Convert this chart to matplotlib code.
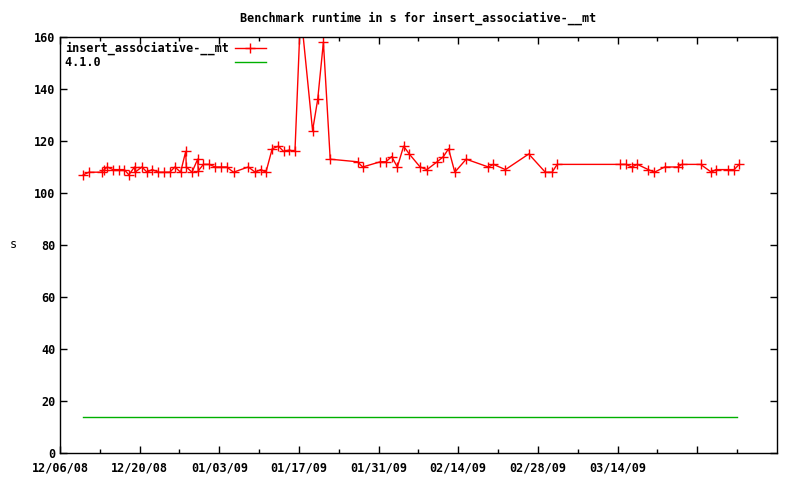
import numpy as np
import pandas as pd
import matplotlib
matplotlib.use('Agg')
import matplotlib.pyplot as plt

# days after 12/06/08 for each run
start = pd.Timestamp('2008-12-06')
days = [4.1, 5.1, 7.3, 7.8, 8.3, 9.3, 10.3, 11.3, 12.1, 13.1, 13.2, 14.4, 15.3, 16.2, 17.3,
        18.3, 19.3, 20.2, 21.2, 22.1, 22.2, 23.2, 24.2, 24.3, 25.2, 26.2, 27.3, 28.3, 29.3,
        30.5, 33.1, 34.3, 35.3, 36.2, 37.3, 38.4, 39.3, 40.3, 41.3, 42.3, 44.4, 45.3, 46.3,
        47.5, 52.3, 53.2, 56.3, 57.3, 58.3, 59.3, 60.4, 61.4, 63.3, 64.5, 66.3, 67.4, 68.3,
        69.4, 71.4, 75.3, 76.2, 78.3, 82.4, 85.3, 86.5, 87.4, 98.4, 99.5, 100.5, 101.5,
        103.4, 104.5, 106.3, 108.6, 109.3, 112.6, 114.5, 115.3, 117.5, 118.5, 119.4]
runtime = [107, 108, 108, 109, 110, 109, 109, 109, 107, 110, 108, 110, 108, 109, 108,
           108, 108, 110, 108, 116, 110, 108, 113, 108.5, 111, 111, 110, 110, 110,
           108, 110, 108, 109, 108, 117, 118, 116, 116.5, 116, 170, 124, 136, 158,
           113, 112, 110, 112, 112, 114, 110, 118, 115, 110, 109, 112, 114, 117,
           108, 113, 110, 111, 109, 115, 108, 108, 111, 111, 111, 110, 111,
           109, 108, 110, 110, 111, 111, 108, 109, 109, 109, 111]
ref_days = [4.0, 119.0]
ref_runtime = [13.7, 13.7]
series_names = ['insert_associative-__mt', '4.1.0']

x = start + pd.to_timedelta(days, unit='D')
xr = start + pd.to_timedelta(ref_days, unit='D')

plt.rcParams['font.family'] = ['DejaVu Sans Mono']
plt.rcParams['font.size'] = 8.5
plt.rcParams['font.weight'] = 'bold'

fig = plt.figure(figsize=(8, 4.8), dpi=100)
ax = fig.add_axes([0.075, 0.05625, 0.896, 0.8667])

# pad labels so they line up on the left like gnuplot's key
w = max(len(n) for n in series_names)
ax.plot(x, runtime, color='#ff0000', lw=1, marker='+', ms=7, mew=1,
        label=series_names[0].ljust(w))
ax.plot(xr, ref_runtime, color='#00b000', lw=1, label=series_names[1].ljust(w))

ax.set_xlim(start, start + pd.Timedelta(days=126))
ax.set_ylim(0, 160)
ax.set_yticks(np.arange(0, 161, 20))

majors = pd.date_range(start, periods=9, freq='14D')
minors = pd.date_range(start + pd.Timedelta(days=7), periods=9, freq='14D')
ax.set_xticks(majors)
ax.set_xticklabels([d.strftime('%m/%d/%y') for d in majors[:-1]] + [''])
ax.set_xticks(minors, minor=True)

ax.tick_params(which='both', direction='in', top=True, right=True, length=5, width=1)
ax.tick_params(which='minor', length=3)
ax.tick_params(axis='x', pad=6)
for s in ax.spines.values():
    s.set_linewidth(1)

ax.set_ylabel('s', rotation=0, va='center', ha='center')
ax.yaxis.set_label_coords(-0.065, 0.5)
ax.set_title('Benchmark runtime in s for insert_associative-__mt', pad=11, fontsize=8.5,
             fontweight='bold')

ax.legend(loc='upper left', frameon=False, markerfirst=False, handlelength=2.7,
          borderaxespad=0.2, borderpad=0.2, labelspacing=0.1, handletextpad=0.5)

fig.savefig('out.png', dpi=100)
